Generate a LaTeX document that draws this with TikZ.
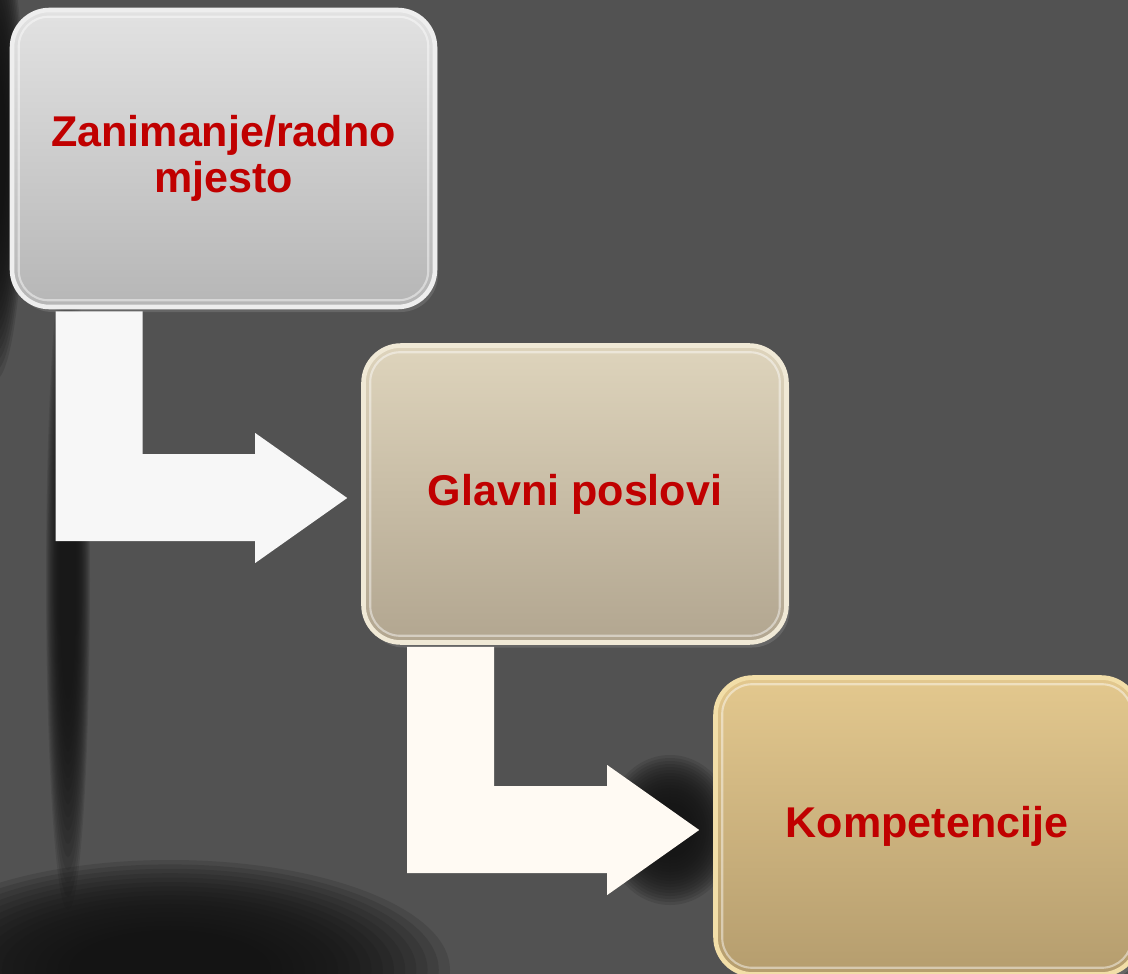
\documentclass[tikz,border=0pt]{standalone}
\usepackage{fontspec}
\setmainfont{Liberation Sans}
\usepackage{tikz}
\usetikzlibrary{calc,shadows}
\definecolor{stagegrey}{RGB}{82,82,82}
\definecolor{shadowblack}{RGB}{20,20,20}
\definecolor{jobred}{RGB}{192,0,0}
\definecolor{greytop}{RGB}{226,226,226}
\definecolor{greybot}{RGB}{182,182,182}
\definecolor{greyrim}{RGB}{238,238,238}
\definecolor{sandtop}{RGB}{222,212,188}
\definecolor{sandbot}{RGB}{178,166,144}
\definecolor{sandrim}{RGB}{240,233,214}
\definecolor{goldtop}{RGB}{227,200,142}
\definecolor{goldbot}{RGB}{181,157,110}
\definecolor{goldrim}{RGB}{242,222,168}
\definecolor{arrowwhite}{RGB}{247,247,247}
\definecolor{arrowcream}{RGB}{255,250,243}
\tikzset{
  stagebox/.style={rounded corners=7.5mm,minimum width=84.6mm,
    minimum height=59.4mm,line width=2.6pt,align=center,text=jobred,
    font=\fontsize{24.5}{26}\selectfont\bfseries,
    drop shadow={opacity=0.45,shadow xshift=0.6mm,shadow yshift=-1mm}},
  greybox/.style={stagebox,draw=greyrim,top color=greytop,bottom color=greybot},
  sandbox/.style={stagebox,draw=sandrim,top color=sandtop,bottom color=sandbot},
  goldbox/.style={stagebox,draw=goldrim,top color=goldtop,bottom color=goldbot}
}

\begin{document}
\begin{tikzpicture}[x=0.2mm,y=-0.2mm]
  \useasboundingbox (0,0) rectangle (1128,974);
  % backdrop with the blurred lamp
  \fill[stagegrey] (0,0) rectangle (1128,974);
  \foreach \cx/\cy/\rx/\ry/\op in {-5/150/30/230/0.16, 68/580/22/330/0.12,
                                   170/970/280/110/0.16, 670/830/65/75/0.14}
    \foreach \s in {1,0.96,...,0.34}
      \fill[shadowblack,opacity=\op]
        (\cx,\cy) ellipse [x radius=\s*\rx, y radius=\s*\ry];

  \node[greybox] (zan) at (223.5,158.5) {Zanimanje/radno\\mjesto};
  \node[sandbox] (glav) at (575,494) {Glavni poslovi};
  \node[goldbox] (komp) at (927,826) {Kompetencije};

  \foreach \n in {zan,glav,komp}
    \draw[white,opacity=0.45,line width=1.2pt,rounded corners=6mm]
      ($(\n.south west)+(9,-9)$) rectangle ($(\n.north east)+(-9,9)$);

  % bent arrows
  \foreach \from/\to/\col in {zan/glav/arrowwhite, glav/komp/arrowcream} {
    \coordinate (tip) at ($(\to.west)+(-14,4)$);
    \coordinate (sl) at ($(\from.south west)+(46,2)$);
    \coordinate (sr) at ($(\from.south west)+(133,2)$);
    \coordinate (hb) at ($(tip)+(-92,0)$);
    \fill[\col] (sl) -- (sr) |- ($(hb)+(0,-44)$) -- ($(hb)+(0,-65)$) -- (tip)
      -- ($(hb)+(0,65)$) -- ($(hb)+(0,43)$) -| (sl) -- cycle;
  }
\end{tikzpicture}
\end{document}
